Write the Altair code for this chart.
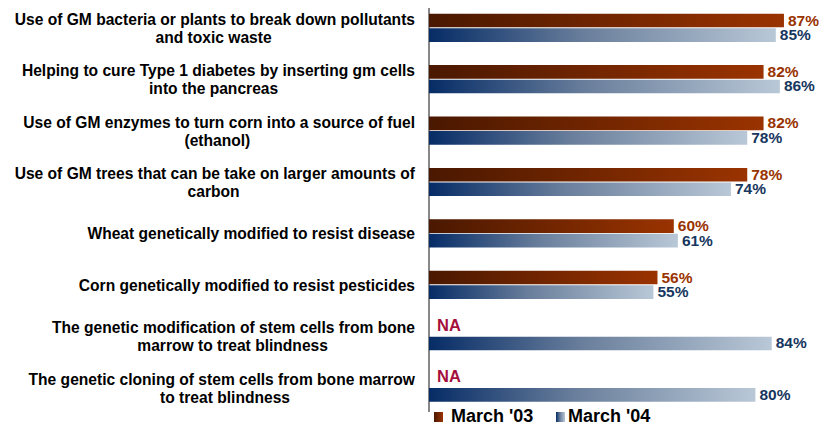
import altair as alt
import pandas as pd

categories = [
    "Use of GM bacteria or plants to break down pollutants\nand toxic waste",
    "Helping to cure Type 1 diabetes by inserting gm cells\ninto the pancreas",
    "Use of GM enzymes to turn corn into a source of fuel\n(ethanol)",
    "Use of GM trees that can be take on larger amounts of\ncarbon",
    "Wheat genetically modified to resist disease",
    "Corn genetically modified to resist pesticides",
    "The genetic modification of stem cells from bone\nmarrow to treat blindness",
    "The genetic cloning of stem cells from bone marrow\nto treat blindness",
]
series = ["March '03", "March '04"]
march03 = [87, 82, 82, 78, 60, 56, None, None]
march04 = [85, 86, 78, 74, 61, 55, 84, 80]

FONT = "Liberation Sans"
cat_ids = [f"c{i}" for i in range(len(categories))]

rows, na_rows, lab_rows = [], [], []
for cid, cat, a, b in zip(cat_ids, categories, march03, march04):
    if a is None:
        na_rows.append({"cat": cid, "series": series[0]})
    else:
        rows.append({"cat": cid, "series": series[0], "value": a})
    rows.append({"cat": cid, "series": series[1], "value": b})
    parts = cat.split("\n")
    lab_rows.append({"cat": cid, "l1": parts[0], "l2": parts[1] if len(parts) > 1 else ""})

df = pd.DataFrame(rows)
df_na = pd.DataFrame(na_rows)
df_lab = pd.DataFrame(lab_rows)

grad03 = alt.Gradient(gradient="linear", x1=0, x2=1, y1=0, y2=0,
                      stops=[alt.GradientStop(color="#4a1800", offset=0),
                             alt.GradientStop(color="#9a3300", offset=1)])
grad04 = alt.Gradient(gradient="linear", x1=0, x2=1, y1=0, y2=0,
                      stops=[alt.GradientStop(color="#062c66", offset=0),
                             alt.GradientStop(color="#6a7f9c", offset=0.45),
                             alt.GradientStop(color="#b9c8d7", offset=1)])

xs = alt.Scale(domain=[0, 100], range=[421, 829])
ys = alt.Scale(domain=cat_ids, range=[-5.9, 405.3], paddingInner=0, paddingOuter=0)
yos = alt.Scale(domain=series, paddingInner=0.06, paddingOuter=0.8)

Y = alt.Y("cat:N", scale=ys, axis=None)
YO = alt.YOffset("series:N", scale=yos)
X = alt.X("value:Q", scale=xs, axis=None)

base = alt.Chart(df)

bars03 = base.transform_filter(alt.datum.series == series[0]).mark_bar(fill=grad03).encode(x=X, y=Y, yOffset=YO)
bars04 = base.transform_filter(alt.datum.series == series[1]).mark_bar(fill=grad04).encode(x=X, y=Y, yOffset=YO)

val_common = dict(align="left", baseline="middle", dx=4, font=FONT, fontSize=15.5, fontWeight="bold")
txt03 = base.transform_filter(alt.datum.series == series[0]).transform_calculate(
    lbl="datum.value + '%'").mark_text(color="#993300", **val_common
).encode(x=X, y=Y, yOffset=YO, text="lbl:N")
txt04 = base.transform_filter(alt.datum.series == series[1]).transform_calculate(
    lbl="datum.value + '%'").mark_text(color="#17375e", **val_common
).encode(x=X, y=Y, yOffset=YO, text="lbl:N")

na = alt.Chart(df_na).transform_calculate(v="0", t="'NA'").mark_text(
    align="left", baseline="middle", dx=8, dy=-3, font=FONT, fontSize=16.5, fontWeight="bold", color="#a50f3c"
).encode(x=alt.X("v:Q", scale=xs, axis=None), y=Y, yOffset=YO, text="t:N")

axis_rule = alt.Chart(df_na).transform_calculate(v="0").mark_rule(color="#808080", strokeWidth=1.5).encode(
    x=alt.X("v:Q", scale=xs, axis=None), y=alt.value(0), y2=alt.value(404))

main = alt.layer(axis_rule, bars03, bars04, txt03, txt04, na)

lab = alt.Chart(df_lab)
lab_common = dict(baseline="middle", font=FONT, fontSize=15.6, fontWeight="bold", color="#000000")
lab1_two = lab.transform_filter("datum.l2 != ''").transform_calculate(lx="407").mark_text(
    align="right", dy=-8, **lab_common).encode(x=alt.X("lx:Q", scale=None, axis=None), y=Y, text="l1:N")
lab2_two = lab.transform_filter("datum.l2 != ''").transform_calculate(
    lx="407 - length(datum.l1) * 3.8").mark_text(
    align="center", dy=10, **lab_common).encode(x=alt.X("lx:Q", scale=None, axis=None), y=Y, text="l2:N")
lab_one = lab.transform_filter("datum.l2 == ''").transform_calculate(lx="407").mark_text(
    align="right", dy=1, **lab_common).encode(x=alt.X("lx:Q", scale=None, axis=None), y=Y, text="l1:N")

one = alt.Chart(pd.DataFrame({"k": [0]}))
leg_sq1 = one.mark_rect(fill=grad03).encode(x=alt.value(426), x2=alt.value(435), y=alt.value(404), y2=alt.value(414))
leg_sq2 = one.mark_rect(fill=grad04).encode(x=alt.value(548), x2=alt.value(557), y=alt.value(404), y2=alt.value(414))
leg_t1 = one.mark_text(align="left", baseline="alphabetic", font=FONT, fontSize=18, fontWeight="bold",
                       color="#000000").encode(x=alt.value(443), y=alt.value(414), text=alt.value(series[0]))
leg_t2 = one.mark_text(align="left", baseline="alphabetic", font=FONT, fontSize=18, fontWeight="bold",
                       color="#000000").encode(x=alt.value(560), y=alt.value(414), text=alt.value(series[1]))

labels = alt.layer(lab1_two, lab2_two, lab_one, leg_sq1, leg_sq2, leg_t1, leg_t2)

chart = alt.layer(main, labels).resolve_scale(x="independent").properties(
    width=811, height=415,
    autosize=alt.AutoSizeParams(type="none"),
    padding=0,
).configure_view(stroke=None)

chart.save("out.html", embed_options={"renderer": "svg", "actions": False})
